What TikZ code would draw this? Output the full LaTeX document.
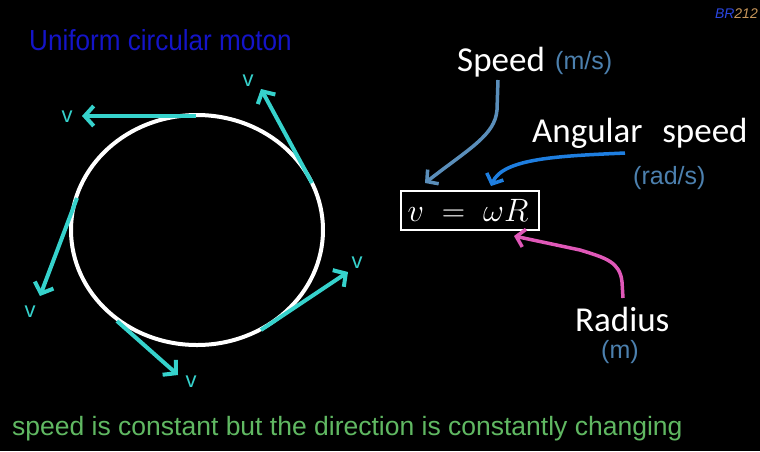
\documentclass[tikz,border=0pt]{standalone}
\usepackage{fontspec}
\setmainfont{Liberation Sans}
\newfontfamily\calib{Carlito}
\usetikzlibrary{arrows.meta}
\definecolor{vcyan}{HTML}{36D2CC}
\definecolor{titleblue}{HTML}{1414C8}
\definecolor{unitblue}{HTML}{4C80AE}
\definecolor{speedarr}{HTML}{5A8EBA}
\definecolor{angarr}{HTML}{1E7EE0}
\definecolor{radarr}{HTML}{E058B8}
\definecolor{txtgreen}{HTML}{60B862}
\definecolor{brblue}{HTML}{2A46E0}
\definecolor{brtan}{HTML}{C8965A}
\tikzset{
  vel/.style={draw=vcyan, line width=4pt, -{Straight Barb[length=9pt,width=20pt,line width=4pt]}},
  vlab/.style={text=vcyan, font=\fontsize{22}{22}\selectfont, inner sep=0pt},
  pointer/.style={line width=3.5pt, -{Straight Barb[length=8pt,width=18pt,line width=3.5pt]}},
  unit/.style={text=unitblue, font=\fontsize{25}{25}\selectfont, inner sep=0pt},
  word/.style={text=white, font=\calib\fontsize{35}{35}\selectfont, inner sep=0pt}
}
\begin{document}
\begin{tikzpicture}[x=1pt,y=-1pt]
\fill[black] (0,0) rectangle (760,451);
\useasboundingbox (0,0) rectangle (760,451);

% title and tag
\node[text=titleblue, font=\fontsize{29}{29}\selectfont, xscale=0.9, anchor=west, inner sep=0pt] (title) at (29,40) {Uniform circular moton};
\node[anchor=east, inner sep=0pt, font=\itshape\fontsize{14}{14}\selectfont] (tag) at (758,14) {\textcolor{brblue}{BR}\textcolor{brtan}{212}};

% circle
\draw[white, line width=4pt] (197,230) ellipse [x radius=126, y radius=115];

% velocity vectors
\coordinate (s1) at (196,116); \coordinate (t1) at (82,116);
\coordinate (s2) at (312,183); \coordinate (t2) at (261,89);
\coordinate (s3) at (77,198);  \coordinate (t3) at (40,296);
\coordinate (s4) at (117,321); \coordinate (t4) at (178,375);
\coordinate (s5) at (261,330); \coordinate (t5) at (348,272);
\draw[vel] (s1) -- (t1);
\draw[vel] (s2) -- (t2);
\draw[vel] (s3) -- (t3);
\draw[vel] (s4) -- (t4);
\draw[vel] (s5) -- (t5);
\node[vlab] (v1) at (67,117) {v};
\node[vlab] (v2) at (248,81) {v};
\node[vlab] (v3) at (30,312) {v};
\node[vlab] (v4) at (191,382) {v};
\node[vlab] (v5) at (357,263) {v};

% formula
\node[draw=white, line width=1.5pt, minimum width=138pt, minimum height=39pt, inner sep=0pt] (eq) at (470,210.5) {};
\node[text=white, inner sep=0pt, font=\fontsize{24}{24}\selectfont] (eqt) at (468,210) {\scalebox{1.3}{$v\;=\;\omega R$}};

% labels
\node[word, anchor=west] (speed) at (457,62) {Speed};
\node[unit, anchor=west] (ms) at (555,63) {(m/s)};
\node[word, anchor=west] (ang) at (532,133) {Angular\,\, speed};
\node[unit, anchor=west] (rads) at (633,178) {(rad/s)};
\node[word, anchor=west] (rad) at (575,319) {Radius};
\node[unit, anchor=west] (m) at (601,352) {(m)};

% pointers
\coordinate (ps) at (498,80);  \coordinate (pse) at (425,183);
\coordinate (pa) at (625,153); \coordinate (pae) at (491,186);
\coordinate (pr) at (623,298); \coordinate (pre) at (514,236);
\draw[pointer, speedarr] (ps) -- (497,110) .. controls (495,135) and (470,148) .. (pse);
\draw[pointer, angarr] (pa) .. controls (560,156) and (503,158) .. (pae);
\draw[pointer, radarr] (pr) -- (622,282) .. controls (620,262) and (606,258) .. (580,250) -- (pre);

% bottom text
\node[text=txtgreen, font=\fontsize{26.5}{26.5}\selectfont, anchor=west, inner sep=0pt] (note) at (12,429) {speed is constant but the direction is constantly changing};
\end{tikzpicture}
\end{document}
